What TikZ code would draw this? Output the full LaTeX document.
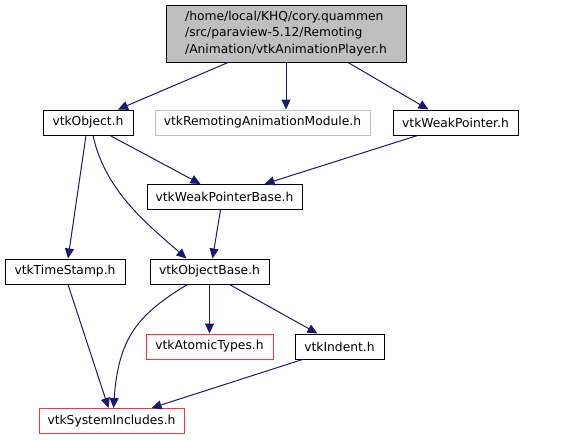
\documentclass[tikz,border=0pt]{standalone}
\usepackage{fontspec}
\setmainfont{DejaVu Sans}
\usepackage{xcolor}
\usetikzlibrary{arrows.meta}

\definecolor{edgeblue}{HTML}{191970}
\definecolor{lightgr}{HTML}{BFBFBF}
\definecolor{missred}{HTML}{FF3030}

\begin{document}
\begin{tikzpicture}[
    x=1pt, y=1pt,
    every node/.style={font=\fontsize{12.3}{16.5}\selectfont},
    hdr/.style={rectangle, draw=black, fill=lightgr, line width=1pt,
                minimum width=240pt, minimum height=57pt, inner sep=0pt, align=left},
    file/.style={rectangle, draw=black, fill=white, line width=1pt,
                 minimum height=25pt, inner sep=0pt},
    extn/.style={file, draw=lightgr},
    redn/.style={file, draw=missred},
    arr/.style={-{Triangle[length=10pt, width=9pt]}, edgeblue, line width=1pt},
  ]
    \useasboundingbox (0,0) rectangle (568,-440);
    \node[hdr] (top) at (286,-33.5)
      {/home/local/KHQ/cory.quammen\\/src/paraview-5.12/Remoting\\/Animation/vtkAnimationPlayer.h};
    \node[file, minimum width=90pt]  (obj)  at (88,-122.5)   {vtkObject.h};
    \node[extn, minimum width=215pt] (mod)  at (262.5,-122.5) {vtkRemotingAnimationModule.h};
    \node[file, minimum width=125pt] (wp)   at (455.5,-122.5) {vtkWeakPointer.h};
    \node[file, minimum width=155pt] (wpb)  at (224.5,-197)   {vtkWeakPointerBase.h};
    \node[file, minimum width=120pt] (ts)   at (65,-271.5)    {vtkTimeStamp.h};
    \node[file, minimum width=119pt] (ob)   at (209.5,-271.5) {vtkObjectBase.h};
    \node[redn, minimum width=127pt] (at)   at (209.5,-346.5) {vtkAtomicTypes.h};
    \node[file, minimum width=89pt]  (ind)  at (339.5,-346.5) {vtkIndent.h};
    \node[redn, minimum width=145pt] (si)   at (111.5,-421)   {vtkSystemIncludes.h};
    % first level
    \draw[arr] ([xshift=-58pt]top.south) -- ([xshift=30pt]obj.north);
    \draw[arr] (top.south) -- (top.south |- mod.north);
    \draw[arr] ([xshift=62pt]top.south) -- ([xshift=-27pt]wp.north);
    % weak pointers
    \draw[arr] ([xshift=22pt]obj.south) -- ([xshift=-24pt]wpb.north);
    \draw[arr] ([xshift=-38pt]wp.south) -- ([xshift=40pt]wpb.north);
    \draw[arr] ([xshift=-2pt]obj.south) -- ([xshift=3pt]ts.north);
    \draw[arr] ([xshift=5pt]obj.south) .. controls +(12,-55) and +(-40,35) .. ([xshift=-23pt]ob.north);
    \draw[arr] ([xshift=-4pt]wpb.south) -- ([xshift=3pt]ob.north);
    % object base
    \draw[arr] ([xshift=3pt]ts.south) -- ([xshift=-3pt]si.north);
    \draw[arr] ([xshift=-22pt]ob.south) .. controls +(-50,-30) and +(5,70) .. ([xshift=2pt]si.north);
    \draw[arr] (ob.south) -- (ob.south |- at.north);
    \draw[arr] ([xshift=20pt]ob.south) -- ([xshift=-22pt]ind.north);
    \draw[arr] ([xshift=-37pt]ind.south) -- ([xshift=40pt]si.north);
  \end{tikzpicture}
\end{document}
